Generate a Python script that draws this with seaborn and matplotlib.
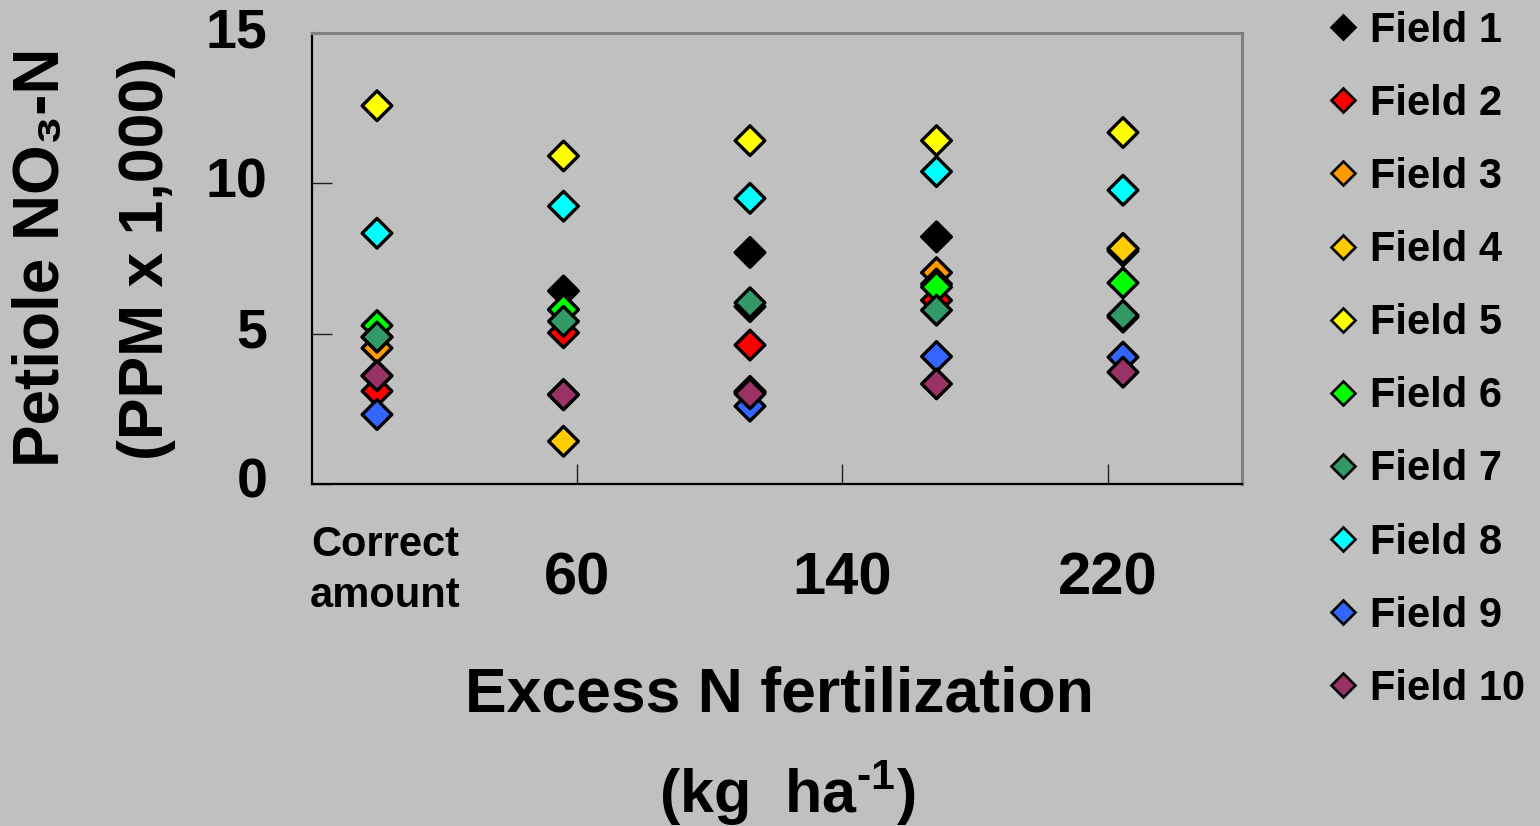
import numpy as np
import pandas as pd
import matplotlib
matplotlib.use("Agg")
import matplotlib.pyplot as plt
import seaborn as sns
from matplotlib.lines import Line2D
from matplotlib.transforms import blended_transform_factory

# ---------------- data ----------------
fields = ["Field 1", "Field 2", "Field 3", "Field 4", "Field 5",
          "Field 6", "Field 7", "Field 8", "Field 9", "Field 10"]
colors = ["#000000", "#FF0000", "#FF9900", "#FFCC00", "#FFFF00",
          "#00FF00", "#339966", "#00FFFF", "#3366FF", "#993366"]
groups = [0, 1, 2, 3, 4]  # sampling groups (point columns)

field1 = [3.60, 6.42, 7.70, 8.22, 7.75]
field2 = [3.09, 5.03, 4.62, 6.11, 5.55]
field3 = [4.52, 5.80, 3.08, 7.03, 7.83]
field4 = [4.89, 1.42, 3.05, 6.65, 7.83]
field5 = [12.58, 10.91, 11.42, 11.42, 11.69]
field6 = [5.27, 5.80, 5.90, 6.55, 6.69]
field7 = [4.89, 5.41, 6.03, 5.78, 5.61]
field8 = [8.34, 9.24, 9.50, 10.39, 9.77]
field9 = [2.31, 2.97, 2.59, 4.24, 4.22]
field10 = [3.60, 2.97, 3.00, 3.33, 3.72]
series = [field1, field2, field3, field4, field5,
          field6, field7, field8, field9, field10]

x_labels = ["Correct\namount", "60", "140", "220"]
x_label_pos = [0.043, 1.0724, 2.495, 3.92]
x_tick_marks = [1.0724, 2.495, 3.92]
y_ticks = [0, 5, 10, 15]

# ---------------- style ----------------
bg = "#C0C0C0"
sns.set_style("white", {"axes.facecolor": bg, "figure.facecolor": bg})
plt.rcParams["font.family"] = ["Liberation Sans", "DejaVu Sans"]
plt.rcParams["font.weight"] = "bold"
plt.rcParams["text.color"] = "black"
plt.rcParams["axes.labelcolor"] = "black"
plt.rcParams["xtick.color"] = "black"
plt.rcParams["ytick.color"] = "black"
plt.rcParams["mathtext.fontset"] = "custom"
plt.rcParams["mathtext.rm"] = "Liberation Sans:bold"
plt.rcParams["mathtext.bf"] = "Liberation Sans:bold"

rows = []
for name, vals in zip(fields, series):
    for g, v in zip(groups, vals):
        rows.append({"field": name, "group": g, "value": v})
df = pd.DataFrame(rows)

fig = plt.figure(figsize=(15.4, 8.26), dpi=100)
fig.patch.set_facecolor(bg)
ax = fig.add_axes([312 / 1540, 1 - 484 / 826, (1242 - 312) / 1540, (484 - 33) / 826])
ax.set_facecolor(bg)

sns.scatterplot(data=df, x="group", y="value", hue="field", hue_order=fields,
                palette=colors, marker="D", s=228, edgecolor="black",
                linewidth=2.4, legend=False, ax=ax, zorder=3)

ax.set_xlim(-0.3485, 4.638)
ax.set_ylim(0, 15)
ax.set_yticks(y_ticks)
ax.set_yticklabels([str(t) for t in y_ticks], fontsize=40, fontweight="bold", color="black")
for lab in ax.get_yticklabels():
    lab.set_va("center")
ax.tick_params(axis="y", which="major", left=True, direction="in", length=14.4,
               width=1.0, color="#202020", pad=32, labelcolor="black")
ax.set_xticks([])
ax.set_xticks(x_tick_marks, minor=True)
ax.tick_params(axis="x", which="minor", bottom=True, direction="in", length=14.4,
               width=1.0, color="#202020", labelbottom=False)
ax.set_xlabel("")
ax.set_ylabel("")

for side in ["left", "bottom"]:
    ax.spines[side].set_color("#000000")
    ax.spines[side].set_linewidth(1.6)
for side in ["top", "right"]:
    ax.spines[side].set_visible(True)
    ax.spines[side].set_color("#808080")
    ax.spines[side].set_linewidth(2.2)

# category labels under the axis
trans = blended_transform_factory(ax.transData, ax.transAxes)
for lab, pos in zip(x_labels, x_label_pos):
    if "\n" in lab:
        ax.text(pos, -0.091, lab, transform=trans, ha="center", va="top",
                fontsize=30, fontweight="bold", linespacing=1.35, color="black")
    else:
        ax.text(pos, -0.246, lab, transform=trans, ha="center", va="baseline",
                fontsize=43, fontweight="bold", color="black")

# axis titles
fig.text(779 / 1540, 1 - 712 / 826, "Excess N fertilization", ha="center",
         va="baseline", fontsize=45, fontweight="bold", color="black")
fig.text(787 / 1540, 1 - 813 / 826, r"(kg  ha$^{\text{-}\mathbf{1}}$)", ha="center",
         va="baseline", fontsize=44, fontweight="bold", color="black")
fig.text(42 / 1540, 1 - 257 / 826, "Petiole NO\u2083-N", rotation=90, ha="center",
         va="center", fontsize=46, fontweight="bold", color="black",
         family=["Liberation Sans", "DejaVu Sans"])
fig.text(147 / 1540, 1 - 258 / 826, "(PPM x 1,000)", rotation=90, ha="center",
         va="center", fontsize=45, fontweight="bold", color="black")

# legend
handles = [Line2D([], [], ls="", marker="D", markersize=12.4,
                  markerfacecolor=c, markeredgecolor="black", markeredgewidth=1.9)
           for c in colors]
leg = fig.legend(handles, fields, loc="upper left", bbox_to_anchor=(1328 / 1540, 0.987),
                 frameon=False, prop={"size": 30, "weight": "bold"}, handlelength=0.7,
                 handletextpad=0.3, labelspacing=0.795, borderpad=0, borderaxespad=0)
for t in leg.get_texts():
    t.set_color("black")

fig.savefig("out.png", dpi=100, facecolor=bg)
